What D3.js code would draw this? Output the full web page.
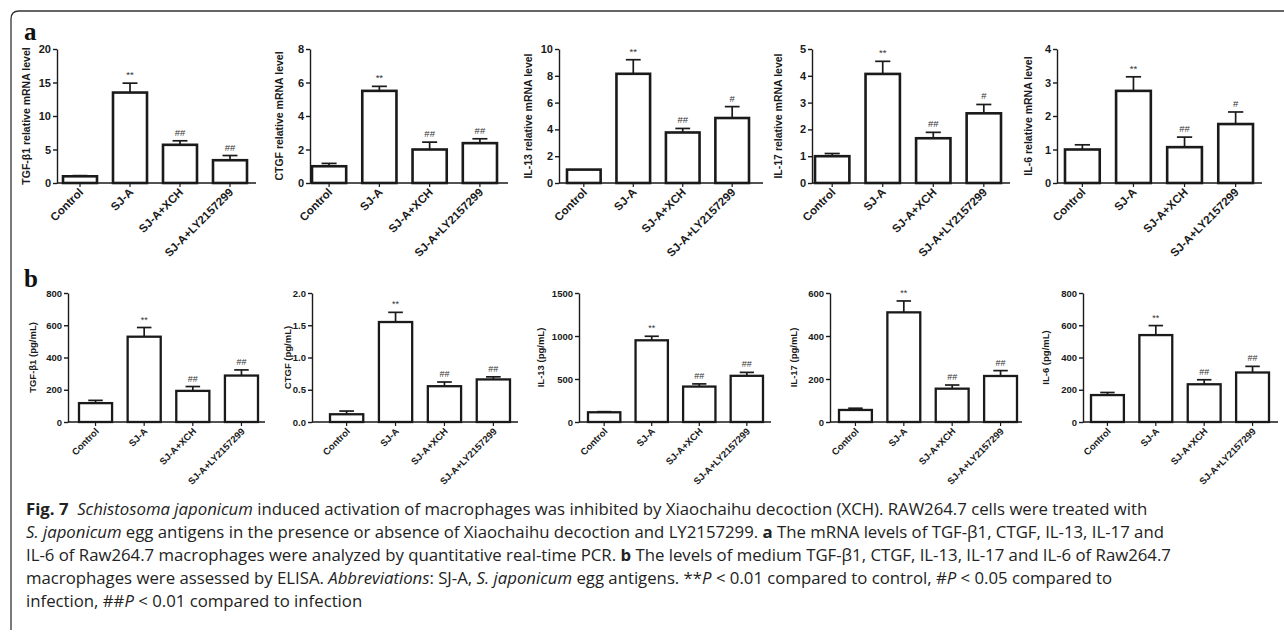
<!DOCTYPE html>
<html>
<head>
<meta charset="utf-8">
<script src="https://cdn.jsdelivr.net/npm/d3@7"></script>
<style>
  body { margin: 0; background: #fff; }
  svg { display: block; }
</style>
</head>
<body>
<svg id="fig" width="1284" height="633"></svg>
<script>
// groups on the x axis of every panel
const groups = ["Control", "SJ-A", "SJ-A+XCH", "SJ-A+LY2157299"];

// panel a: relative mRNA levels (qPCR)
const mrnaTitles = ["TGF-β1 relative mRNA level", "CTGF relative mRNA level", "IL-13 relative mRNA level",
  "IL-17 relative mRNA level", "IL-6 relative mRNA level"];
const mrnaMeans = [
  [1.0, 13.5, 5.7, 3.4],
  [1.0, 5.5, 2.0, 2.38],
  [1.0, 8.15, 3.77, 4.85],
  [1.0, 4.07, 1.67, 2.6],
  [1.0, 2.75, 1.07, 1.76]
];
const mrnaErrs = [
  [0.1, 1.4, 0.6, 0.7],
  [0.17, 0.27, 0.44, 0.26],
  [0, 1.05, 0.3, 0.85],
  [0.1, 0.47, 0.22, 0.33],
  [0.14, 0.42, 0.3, 0.36]
];
const mrnaMarks = [
  ["", "**", "##", "##"],
  ["", "**", "##", "##"],
  ["", "**", "##", "#"],
  ["", "**", "##", "#"],
  ["", "**", "##", "#"]
];
const mrnaTicks = [[0, 5, 10, 15, 20], [0, 2, 4, 6, 8], [0, 2, 4, 6, 8, 10], [0, 1, 2, 3, 4, 5], [0, 1, 2, 3, 4]];

// panel b: ELISA, pg/mL
const elisaTitles = ["TGF-β1 (pg/mL)", "CTGF (pg/mL)", "IL-13 (pg/mL)", "IL-17 (pg/mL)", "IL-6 (pg/mL)"];
const elisaMeans = [
  [117, 529, 193, 288],
  [0.12, 1.55, 0.555, 0.66],
  [113, 950, 412, 537],
  [56, 510, 155, 214],
  [167, 539, 234, 307]
];
const elisaErrs = [
  [17, 57, 27, 35],
  [0.05, 0.15, 0.065, 0.04],
  [7, 47, 31, 40],
  [8, 53, 17, 25],
  [16, 59, 28, 38]
];
const elisaMarks = [
  ["", "**", "##", "##"],
  ["", "**", "##", "##"],
  ["", "**", "##", "##"],
  ["", "**", "##", "##"],
  ["", "**", "##", "##"]
];
const elisaTicks = [[0, 200, 400, 600, 800], [0, 0.5, 1, 1.5, 2], [0, 500, 1000, 1500], [0, 200, 400, 600], [0, 200, 400, 600, 800]];
const elisaFormats = [d3.format("d"), d3.format(".1f"), d3.format("d"), d3.format("d"), d3.format("d")];

// layout: axis x, axis end, bar span, title offset
const rowA = { top: 49, bottom: 183, tickFont: 11, labFont: 11.5, titleFont: 10.5, bw: 2.6, sigFont: 9.5 };
const rowB = { top: 293, bottom: 422, tickFont: 9.5, labFont: 9.5, titleFont: 9.5, bw: 2.3, sigFont: 9 };
const layoutA = [
  { ax: 57, end: 256, bars: [63, 247], tx: 27 },
  { ax: 310, end: 508, bars: [312, 497], tx: 27 },
  { ax: 559, end: 763, bars: [567, 749], tx: 27 },
  { ax: 812, end: 1010, bars: [815, 1001], tx: 30 },
  { ax: 1057, end: 1262, bars: [1065, 1253], tx: 25 }
];
const layoutB = [
  { ax: 68, end: 265, bars: [79, 258], tx: 32 },
  { ax: 312, end: 518, bars: [330, 510], tx: 21 },
  { ax: 579, end: 771, bars: [588, 763], tx: 35 },
  { ax: 830, end: 1022, bars: [839, 1017], tx: 33 },
  { ax: 1083, end: 1278, bars: [1091, 1269], tx: 34 }
];

const svg = d3.select("#fig");
const ink = "#1a1a1a";

// figure frame (rounded top-left corner)
svg.append("path")
  .attr("d", "M11,630 V19 Q11,11 19,11 H1284")
  .attr("fill", "none")
  .attr("stroke", "#333")
  .attr("stroke-width", 1.3);

function drawPanel(row, lay, title, means, errs, marks, ticks, fmt) {
  const y = d3.scaleLinear().domain([0, d3.max(ticks)]).range([row.bottom, row.top]);
  const x = d3.scaleBand().domain(groups).range(lay.bars).paddingInner(0.32);
  const g = svg.append("g").attr("font-family", "'Liberation Sans', Arial, sans-serif").attr("font-weight", "bold");

  // y axis
  const ya = g.append("g")
    .attr("transform", `translate(${lay.ax},0)`)
    .call(d3.axisLeft(y).tickValues(ticks).tickFormat(fmt).tickSize(4).tickSizeOuter(0).tickPadding(2));
  ya.attr("font-size", null).attr("font-family", null);
  ya.selectAll("path, line").attr("stroke", ink).attr("stroke-width", 1.4);
  ya.selectAll("text").attr("font-size", row.tickFont).attr("fill", ink);

  // x axis (line drawn over the whole width)
  const xa = g.append("g")
    .attr("transform", `translate(0,${row.bottom})`)
    .call(d3.axisBottom(x).tickSize(4).tickSizeOuter(0));
  xa.attr("font-size", null).attr("font-family", null);
  xa.select(".domain").remove();
  xa.selectAll("line").attr("stroke", ink).attr("stroke-width", 1.2);
  xa.selectAll("text")
    .attr("font-size", row.labFont)
    .attr("fill", ink)
    .attr("text-anchor", "end")
    .attr("dy", null)
    .attr("y", 0)
    .attr("transform", "translate(4,10) rotate(-45)");
  g.append("line")
    .attr("x1", lay.ax).attr("x2", lay.end)
    .attr("y1", row.bottom).attr("y2", row.bottom)
    .attr("stroke", ink).attr("stroke-width", 1.4);

  // y title
  g.append("text")
    .attr("transform", `translate(${lay.ax - lay.tx},${(row.top + row.bottom) / 2}) rotate(-90)`)
    .attr("text-anchor", "middle")
    .attr("font-size", row.titleFont)
    .attr("fill", ink)
    .text(title);

  const data = groups.map((k, i) => ({ k, m: means[i], e: errs[i], s: marks[i] }));
  const cap = x.bandwidth() * 0.22;

  // error bars (upper only)
  const eb = g.selectAll(".err").data(data.filter(d => d.e > 0)).enter().append("g");
  eb.append("line")
    .attr("x1", d => x(d.k) + x.bandwidth() / 2).attr("x2", d => x(d.k) + x.bandwidth() / 2)
    .attr("y1", d => y(d.m)).attr("y2", d => y(d.m + d.e))
    .attr("stroke", ink).attr("stroke-width", 1.7);
  eb.append("line")
    .attr("x1", d => x(d.k) + x.bandwidth() / 2 - cap).attr("x2", d => x(d.k) + x.bandwidth() / 2 + cap)
    .attr("y1", d => y(d.m + d.e)).attr("y2", d => y(d.m + d.e))
    .attr("stroke", ink).attr("stroke-width", 1.7);

  // bars
  g.selectAll(".bar").data(data).enter().append("rect")
    .attr("x", d => x(d.k))
    .attr("y", d => y(d.m))
    .attr("width", x.bandwidth())
    .attr("height", d => row.bottom - y(d.m))
    .attr("fill", "#fff")
    .attr("stroke", ink)
    .attr("stroke-width", row.bw);

  // significance marks
  g.selectAll(".sig").data(data.filter(d => d.s)).enter().append("text")
    .attr("x", d => x(d.k) + x.bandwidth() / 2)
    .attr("y", d => y(d.m + d.e) - 5)
    .attr("text-anchor", "middle")
    .attr("font-size", row.sigFont)
    .attr("font-weight", "normal")
    .attr("fill", "#333")
    .text(d => d.s);
}

layoutA.forEach((lay, i) => drawPanel(rowA, lay, mrnaTitles[i], mrnaMeans[i], mrnaErrs[i], mrnaMarks[i], mrnaTicks[i], d3.format("d")));
layoutB.forEach((lay, i) => drawPanel(rowB, lay, elisaTitles[i], elisaMeans[i], elisaErrs[i], elisaMarks[i], elisaTicks[i], elisaFormats[i]));

// panel letters
svg.append("text").attr("x", 24).attr("y", 40)
  .attr("font-family", "'Liberation Serif', 'Times New Roman', serif").attr("font-weight", "bold")
  .attr("font-size", 25).attr("fill", "#111").text("a");
svg.append("text").attr("x", 24).attr("y", 287)
  .attr("font-family", "'Liberation Serif', 'Times New Roman', serif").attr("font-weight", "bold")
  .attr("font-size", 25).attr("fill", "#111").text("b");

// caption: [text, style] where b = bold, i = italic
const caption = [
  [["Fig. 7", "b"], ["  ", ""], ["Schistosoma japonicum", "i"], [" induced activation of macrophages was inhibited by Xiaochaihu decoction (XCH). RAW264.7 cells were treated with", ""]],
  [["S. japonicum", "i"], [" egg antigens in the presence or absence of Xiaochaihu decoction and LY2157299. ", ""], ["a", "b"], [" The mRNA levels of TGF-β1, CTGF, IL-13, IL-17 and", ""]],
  [["IL-6 of Raw264.7 macrophages were analyzed by quantitative real-time PCR. ", ""], ["b", "b"], [" The levels of medium TGF-β1, CTGF, IL-13, IL-17 and IL-6 of Raw264.7", ""]],
  [["macrophages were assessed by ELISA. ", ""], ["Abbreviations", "i"], [": SJ-A, ", ""], ["S. japonicum", "i"], [" egg antigens. **", ""], ["P", "i"], [" < 0.01 compared to control, #", ""], ["P", "i"], [" < 0.05 compared to", ""]],
  [["infection, ##", ""], ["P", "i"], [" < 0.01 compared to infection", ""]]
];

const capG = svg.append("g")
  .attr("font-family", "'Open Sans', 'Noto Sans', sans-serif")
  .attr("font-size", 15.5)
  .attr("fill", "#222");
const capLines = caption.map((segs, li) => {
  const t = capG.append("text").attr("x", 0).attr("y", 0).style("white-space", "pre")
    .attr("transform", `translate(26,${515 + li * 23})`);
  segs.forEach(([s, st]) => {
    t.append("tspan")
      .attr("font-weight", st === "b" ? "bold" : null)
      .attr("font-style", st === "i" ? "italic" : null)
      .text(s);
  });
  return t;
});
// squeeze horizontally so the first line spans the same width as in the original
const w0 = capLines[0].node().getComputedTextLength();
const sx = 1123 / w0;
capLines.forEach((t, li) => t.attr("transform", `translate(26,${515 + li * 23}) scale(${sx},1)`));
</script>
</body>
</html>
